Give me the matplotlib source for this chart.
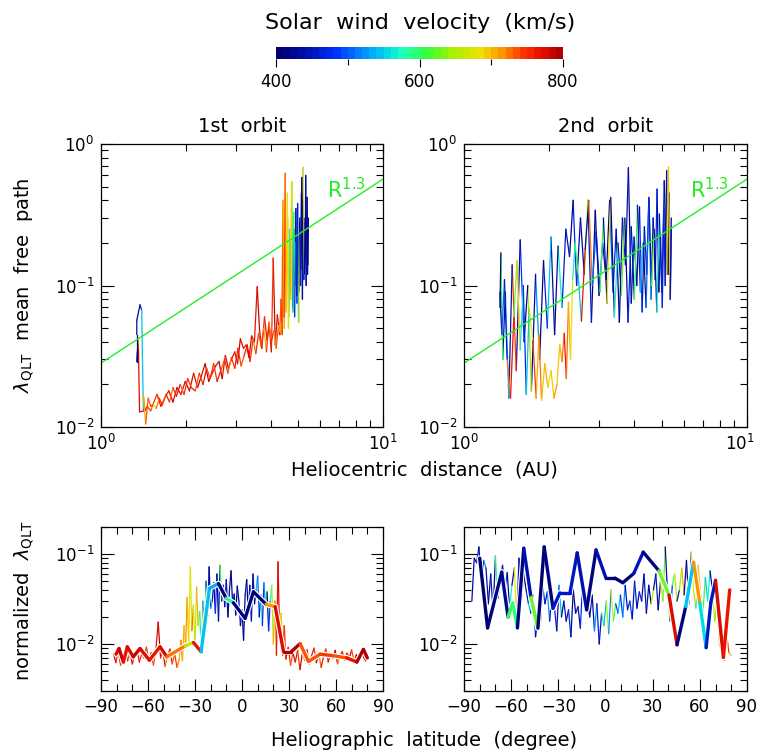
import numpy as np
import matplotlib.pyplot as plt
from matplotlib.collections import LineCollection
from matplotlib.colors import LinearSegmentedColormap, ListedColormap, Normalize
from matplotlib.cm import ScalarMappable
from matplotlib.ticker import LogLocator, MultipleLocator, FixedLocator, NullFormatter
from matplotlib.transforms import ScaledTranslation
import matplotlib.patheffects as pe

plt.rcParams['font.family'] = ['DejaVu Sans']
plt.rcParams['mathtext.fontset'] = 'dejavusans'

# --- 1st orbit: distance (AU), mean free path, wind speed (km/s)
r1 = [5.42, 5.40, 5.37, 5.35, 5.32, 5.30, 5.27, 5.24, 5.21, 5.18, 5.15, 5.11, 5.07, 5.03, 4.99, 4.95,
      4.91, 4.87, 4.83, 4.79, 4.75, 4.71, 4.67, 4.63, 4.59, 4.55, 4.51, 4.47, 4.43, 4.39, 4.35,
      4.30, 4.22, 4.15, 4.08, 4.02, 3.95, 3.88, 3.80, 3.72, 3.65, 3.58, 3.50, 3.42, 3.35, 3.27, 3.20,
      3.12, 3.05, 2.98, 2.90, 2.83, 2.76, 2.69, 2.62, 2.55, 2.48, 2.41, 2.34, 2.27, 2.20, 2.13, 2.06,
      1.99, 1.92, 1.86, 1.80, 1.74, 1.68, 1.63, 1.58, 1.54, 1.50, 1.46, 1.43,
      1.37, 1.356, 1.345, 1.339, 1.339, 1.34, 1.375, 1.394, 1.413, 1.43, 1.413, 1.44,
      1.47, 1.50, 1.53, 1.57, 1.61, 1.65, 1.70, 1.75, 1.80, 1.85, 1.91, 1.97, 2.03, 2.09, 2.16, 2.23,
      2.30, 2.37, 2.44, 2.51, 2.58, 2.66, 2.74, 2.82, 2.90, 2.98, 3.06, 3.14, 3.22, 3.30, 3.38, 3.46,
      3.54, 3.62, 3.70, 3.78, 3.86, 3.94, 4.02, 4.10, 4.18, 4.26, 4.34,
      4.38, 4.42, 4.46, 4.50, 4.54, 4.58, 4.62, 4.66, 4.70, 4.74, 4.78, 4.82, 4.86, 4.90, 4.94, 4.98,
      5.02, 5.06, 5.10, 5.14, 5.18, 5.22, 5.26, 5.30, 5.34, 5.38, 5.41, 5.44]
lam1 = [0.25, 0.12, 0.32, 0.15, 0.60, 0.18, 0.28, 0.11, 0.40, 0.16, 0.58, 0.13, 0.30, 0.09, 0.22, 0.075,
        0.35, 0.10, 0.25, 0.065, 0.54, 0.08, 0.20, 0.06, 0.30, 0.07, 0.18, 0.05, 0.12, 0.045, 0.08,
        0.045, 0.062, 0.038, 0.156, 0.034, 0.052, 0.041, 0.060, 0.036, 0.048, 0.098, 0.040, 0.044, 0.031, 0.038, 0.036,
        0.042, 0.028, 0.034, 0.030, 0.026, 0.032, 0.022, 0.029, 0.027, 0.024, 0.021, 0.028, 0.023, 0.019, 0.024, 0.018,
        0.021, 0.017, 0.019, 0.015, 0.018, 0.016, 0.014, 0.017, 0.015, 0.013, 0.014, 0.013,
        0.0128, 0.041, 0.034, 0.029, 0.045, 0.057, 0.073, 0.067, 0.0132, 0.0136, 0.0168, 0.0105,
        0.016, 0.014, 0.0145, 0.0135, 0.016, 0.0142, 0.017, 0.015, 0.019, 0.0165, 0.020, 0.017, 0.022, 0.019, 0.018, 0.024,
        0.020, 0.026, 0.022, 0.028, 0.021, 0.025, 0.030, 0.024, 0.031, 0.026, 0.036, 0.027, 0.032, 0.038, 0.029, 0.042,
        0.033, 0.046, 0.037, 0.050, 0.034, 0.055, 0.040, 0.048, 0.036, 0.052, 0.045,
        0.055, 0.40, 0.06, 0.62, 0.065, 0.45, 0.05, 0.25, 0.09, 0.54, 0.07, 0.33, 0.06, 0.20, 0.085, 0.38,
        0.055, 0.28, 0.10, 0.45, 0.08, 0.68, 0.12, 0.30, 0.10, 0.42, 0.14, 0.30]
vel1 = [420, 430, 410, 440, 430, 420, 480, 450, 430, 410, 420, 500, 440, 460, 520, 480,
        430, 550, 470, 600, 680, 640, 520, 700, 690, 620, 710, 700, 720, 750, 730,
        770, 760, 780, 740, 770, 790, 765, 750, 770, 780, 760, 775, 770, 785, 765, 770,
        780, 760, 775, 770, 780, 765, 785, 770, 760, 775, 780, 770, 790, 765, 770, 780,
        775, 760, 770, 785, 760, 750, 765, 740, 730, 745, 760, 770,
        770, 700, 420, 410, 430, 420, 450, 540, 760, 720, 700, 730,
        730, 740, 690, 720, 750, 735, 760, 720, 740, 770, 730, 750, 740, 760, 735, 745,
        760, 730, 750, 740, 760, 735, 750, 720, 745, 760, 740, 730, 750, 760, 740, 720,
        750, 730, 745, 700, 740, 720, 750, 710, 730, 700, 720,
        730, 700, 740, 720, 690, 680, 660, 560, 700, 670, 520, 600, 470, 500, 430, 460,
        640, 420, 450, 410, 430, 680, 420, 400, 440, 420, 410, 430]

# --- 2nd orbit
r2 = [5.40, 5.36, 5.31, 5.26, 5.20, 5.14, 5.08, 5.02, 4.95, 4.88, 4.81, 4.74, 4.66, 4.58, 4.50, 4.42,
      4.34, 4.26, 4.17, 4.08, 3.99, 3.90, 3.81, 3.72, 3.63, 3.54, 3.45, 3.36, 3.27, 3.18, 3.09, 3.00,
      2.91, 2.82, 2.74, 2.66, 2.58, 2.50, 2.43, 2.36, 2.29, 2.22, 2.15, 2.09, 2.03, 1.97, 1.91, 1.85,
      1.79, 1.73, 1.68, 1.63, 1.58, 1.53, 1.48, 1.44, 1.40, 1.37, 1.35, 1.34,
      1.34, 1.36, 1.39, 1.42, 1.46, 1.50, 1.54, 1.58, 1.62, 1.66, 1.70, 1.75, 1.80, 1.84, 1.88, 1.93,
      1.98, 2.03, 2.08, 2.13, 2.18, 2.22, 2.26, 2.30, 2.34, 2.38, 2.42, 2.47, 2.53, 2.60, 2.68, 2.76,
      2.84, 2.93, 3.02, 3.11, 3.20, 3.30, 3.40, 3.50, 3.60, 3.70, 3.80, 3.90, 4.00, 4.10, 4.20, 4.30,
      4.40, 4.50, 4.60, 4.70, 4.80, 4.90, 5.00, 5.10, 5.20, 5.28, 5.35, 5.40]
lam2 = [0.30, 0.08, 0.45, 0.12, 0.65, 0.10, 0.35, 0.07, 0.22, 0.09, 0.48, 0.11, 0.30, 0.08, 0.42, 0.12,
        0.26, 0.065, 0.36, 0.10, 0.22, 0.075, 0.68, 0.14, 0.30, 0.055, 0.25, 0.09, 0.40, 0.11, 0.20, 0.085,
        0.34, 0.055, 0.40, 0.12, 0.30, 0.10, 0.40, 0.16, 0.25, 0.07, 0.19, 0.045, 0.22, 0.05, 0.15, 0.03,
        0.12, 0.018, 0.10, 0.04, 0.21, 0.025, 0.14, 0.016, 0.09, 0.03, 0.17, 0.07,
        0.09, 0.045, 0.11, 0.03, 0.016, 0.06, 0.15, 0.035, 0.10, 0.017, 0.07, 0.041, 0.016, 0.045, 0.0155, 0.028,
        0.019, 0.025, 0.016, 0.020, 0.038, 0.029, 0.046, 0.022, 0.076, 0.030, 0.11, 0.20, 0.12, 0.056, 0.18, 0.40,
        0.10, 0.24, 0.09, 0.30, 0.075, 0.42, 0.06, 0.20, 0.085, 0.30, 0.055, 0.26, 0.08, 0.37, 0.09, 0.20,
        0.07, 0.41, 0.10, 0.25, 0.065, 0.32, 0.09, 0.55, 0.12, 0.69, 0.08, 0.25]
vel2 = [420, 450, 410, 430, 440, 460, 420, 480, 430, 410, 470, 430, 450, 520, 420, 460,
        430, 480, 410, 440, 470, 420, 440, 450, 430, 410, 460, 500, 420, 440, 470, 430,
        410, 450, 640, 420, 430, 470, 410, 440, 450, 560, 420, 430, 540, 460, 410, 520,
        430, 640, 410, 480, 420, 740, 440, 530, 430, 600, 410, 420,
        430, 500, 450, 720, 760, 620, 690, 560, 470, 540, 680, 740, 700, 720, 690, 700,
        680, 690, 710, 690, 700, 720, 760, 720, 700, 680, 560, 600, 540, 760, 430, 720,
        500, 440, 600, 430, 680, 410, 560, 440, 620, 420, 470, 430, 600, 450, 540, 420,
        500, 440, 620, 420, 560, 440, 470, 430, 680, 690, 430, 480]

# --- 1st orbit vs heliographic latitude (normalized by R^1.3)
lat1 = [-82, -80.5, -79, -77.5, -76, -74.5, -73, -71.5, -70, -68.5, -67, -65.5, -64, -62.5, -61, -59.5,
        -58, -56.5, -55, -53.5, -52, -50.5, -49, -47.5, -46, -44.5, -43, -41.5, -40,
        -39, -38, -37, -36, -35, -34, -33, -32, -31, -30, -29, -28, -27, -26, -25, -24, -23, -22, -21, -20,
        -19, -18, -17, -16, -15, -14, -13, -12, -11, -10, -9, -8, -7, -6, -5, -4, -3, -2, -1, 0,
        1, 2, 3, 4, 5, 6, 7, 8, 9, 10, 11, 12, 13, 14, 15, 16, 17, 18, 19, 20,
        21, 22, 23, 24, 25, 26, 27, 28, 29.5, 31, 32.5, 34, 35.5, 37, 38.5, 40, 41.5, 43, 44.5, 46,
        47.5, 49, 50.5, 52, 53.5, 55, 56.5, 58, 59.5, 61, 62.5, 64, 65.5, 67, 68.5, 70, 71.5, 73, 74.5,
        76, 77.5, 79, 80]
nlam1 = [0.0078, 0.0062, 0.0085, 0.0058, 0.0072, 0.0090, 0.0065, 0.0080, 0.0060, 0.0075, 0.0088, 0.0063,
         0.0078, 0.0070, 0.0092, 0.0066, 0.0080, 0.0058, 0.0085, 0.0175, 0.0070, 0.0082, 0.0056, 0.0075,
         0.0088, 0.0060, 0.0078, 0.0055, 0.0068,
         0.0110, 0.0065, 0.0160, 0.0090, 0.0330, 0.0105, 0.0720, 0.0140, 0.0270, 0.0095, 0.0430, 0.0160,
         0.0230, 0.0085, 0.0300, 0.0120, 0.0500, 0.0200, 0.0720, 0.0250,
         0.030, 0.048, 0.022, 0.060, 0.018, 0.075, 0.030, 0.045, 0.026, 0.052, 0.020, 0.040, 0.065, 0.028,
         0.036, 0.021, 0.044, 0.030, 0.016, 0.024, 0.011, 0.035, 0.052, 0.022, 0.045, 0.018, 0.060, 0.028,
         0.040, 0.057, 0.020, 0.035, 0.016, 0.048, 0.026, 0.038, 0.014, 0.030, 0.045, 0.010,
         0.030, 0.0075, 0.082, 0.012, 0.022, 0.0075, 0.016, 0.0068, 0.0092, 0.0058, 0.0080, 0.0063, 0.0085,
         0.0052, 0.0078, 0.0066, 0.0086, 0.0060, 0.0075, 0.0090, 0.0062, 0.0080, 0.0055, 0.0072, 0.0088,
         0.0063, 0.0078, 0.0069, 0.0085, 0.0060, 0.0074, 0.0082, 0.0066, 0.0079, 0.0070, 0.0086, 0.0064,
         0.0076, 0.0068, 0.0082, 0.0072, 0.0065, 0.0078]
nvel1 = [780, 750, 770, 730, 760, 780, 740, 770, 760, 730, 770, 750, 780, 760, 740, 770, 750, 730, 760,
         780, 740, 770, 720, 750, 760, 730, 740, 720, 700,
         720, 700, 690, 710, 700, 680, 670, 720, 660, 650, 700, 640, 560, 690, 520, 600, 470, 450, 420, 540,
         450, 420, 480, 410, 440, 600, 430, 470, 420, 450, 410, 430, 420, 480, 440, 410, 420, 460, 430, 410,
         420, 440, 410, 470, 430, 450, 420, 410, 540, 500, 440, 560, 470, 520, 620, 430, 480, 560, 640, 700,
         720, 760, 770, 700, 690, 760, 740, 770, 750, 730, 770, 760, 740, 780, 720, 750, 770, 730, 760, 740,
         780, 720, 760, 750, 740, 770, 730, 760, 780, 720, 750, 770, 740, 760, 780, 730, 770, 790, 760,
         780, 790, 770, 780]

# binned averages, 1st orbit
blat1 = [-80.4, -78.5, -75.7, -73.2, -69.4, -65.1, -59.1, -52.3, -48.0, -36.3, -31.0, -26.1, -20.8, -15.0,
         -10.1, -5.5, 2.0, 7.3, 15.4, 21.2, 26.5, 31.4, 37.1, 42.4, 49.9, 58.4, 66.9, 73.3, 77.5, 80.0]
blam1 = [0.0077, 0.0089, 0.0063, 0.0093, 0.0072, 0.0089, 0.0066, 0.0093, 0.0072, 0.0095, 0.0104, 0.0082,
         0.0415, 0.047, 0.0322, 0.0287, 0.0193, 0.038, 0.0276, 0.026, 0.0082, 0.0082, 0.0101, 0.0064,
         0.0077, 0.0074, 0.0070, 0.0063, 0.0087, 0.0070]
bvel1 = [770, 780, 760, 770, 780, 770, 760, 770, 720, 650, 760, 540, 530, 410, 580, 410, 410, 405, 710,
         770, 790, 790, 730, 730, 740, 730, 760, 790, 790, 780]

# --- 2nd orbit vs heliographic latitude
lat2 = [-85, -83.5, -82, -80.5, -79, -77.5, -76, -74.5, -73, -71.5,
        -70, -68.5, -67, -65.5, -64, -62.5, -61, -59.5, -58, -56.5,
        -55, -53.5, -52, -50.5, -49, -47.5, -46, -44.5, -43, -41.5,
        -40, -38.5, -37, -35.5, -34, -32.5, -31, -29.5, -28, -26.5,
        -25, -23.5, -22, -20.5, -19, -17.5, -16, -14.5, -13, -11.5,
        -10, -8.5, -7, -5.5, -4, -2.5, -1, 0.5, 2, 3.5,
        5, 6.5, 8, 9.5, 11, 12.5, 14, 15.5, 17, 18.5,
        20, 21.5, 23, 24.5, 26, 27.5, 29, 30.5, 32, 33.5,
        35, 36.5, 38, 39.5, 41, 42.5, 44, 45.5, 47, 48.5,
        50, 51.5, 53, 54.5, 56, 57.5, 59, 60.5, 62, 63.5,
        65, 66.5, 68, 69.5, 71, 72.5, 74, 75.5, 77, 78.5, 80]
nlam2 = [0.030, 0.090, 0.080, 0.120, 0.045, 0.085, 0.070, 0.028, 0.060, 0.022,
         0.095, 0.032, 0.050, 0.075, 0.040, 0.062, 0.025, 0.045, 0.070, 0.018,
         0.090, 0.030, 0.060, 0.040, 0.028, 0.022, 0.035, 0.012, 0.020, 0.016,
         0.045, 0.028, 0.038, 0.018, 0.040, 0.026, 0.014, 0.045, 0.020, 0.030,
         0.018, 0.024, 0.012, 0.040, 0.022, 0.026, 0.015, 0.050, 0.024, 0.032,
         0.020, 0.035, 0.014, 0.028, 0.010, 0.022, 0.016, 0.030, 0.013, 0.040,
         0.018, 0.028, 0.022, 0.035, 0.020, 0.045, 0.024, 0.030, 0.019, 0.050,
         0.025, 0.038, 0.030, 0.060, 0.022, 0.045, 0.028, 0.040, 0.060, 0.024,
         0.050, 0.030, 0.120, 0.035, 0.018, 0.045, 0.060, 0.030, 0.040, 0.070,
         0.035, 0.085, 0.028, 0.105, 0.040, 0.025, 0.075, 0.035, 0.022, 0.055,
         0.030, 0.065, 0.040, 0.018, 0.030, 0.0095, 0.016, 0.0065, 0.013, 0.0080, 0.0075]
nvel2 = [430, 410, 460, 420, 430, 520, 440, 410, 450, 420,
         580, 440, 460, 430, 470, 420, 560, 430, 680, 450,
         420, 440, 410, 450, 540, 430, 480, 420, 560, 430,
         470, 430, 520, 440, 410, 460, 430, 540, 410, 450,
         420, 470, 430, 410, 450, 430, 470, 420, 440, 410,
         440, 420, 520, 460, 440, 580, 540, 640, 520, 680,
         590, 480, 540, 470, 520, 430, 450, 480, 440, 460,
         430, 470, 420, 450, 430, 410, 640, 430, 450, 420,
         670, 620, 430, 690, 480, 600, 650, 450, 640, 700,
         430, 420, 500, 680, 660, 560, 690, 460, 600, 540,
         560, 430, 670, 620, 700, 700, 720, 680, 740, 700, 720]

# binned averages, 2nd orbit
blat2 = [-80, -75, -66, -62, -59, -56, -52, -47.4, -43, -39, -33.4, -29, -22.6, -18, -12, -6, 0.3, 6,
         11, 18, 24, 34, 40.4, 45.5, 51, 56, 60, 64, 67, 70, 75, 79]
blam2 = [0.090, 0.0151, 0.063, 0.020, 0.0285, 0.0151, 0.116, 0.033, 0.015, 0.12, 0.025, 0.037, 0.037,
         0.103, 0.024, 0.111, 0.054, 0.054, 0.048, 0.061, 0.105, 0.065, 0.035, 0.0098, 0.026, 0.081,
         0.0285, 0.0091, 0.029, 0.051, 0.0071, 0.040]
bvel2 = [405, 410, 420, 600, 590, 410, 440, 620, 400, 410, 450, 450, 450, 440, 410, 440, 410, 400, 410,
         450, 410, 620, 770, 410, 540, 710, 550, 450, 450, 770, 760, 760]

# R^1.3 reference line
r_fit = np.array([1.0, 10.0])
lam_fit = 0.0283 * r_fit ** 1.3

# colour table for wind speed
cpts = [(0.00, '#000070'), (0.10, '#0010b0'), (0.20, '#0030ff'), (0.30, '#0090ff'),
        (0.38, '#00d8e8'), (0.44, '#20ffc0'), (0.52, '#30ff40'), (0.62, '#a8f000'),
        (0.72, '#f0e000'), (0.80, '#ff9000'), (0.86, '#ff4000'), (0.93, '#e81000'), (1.00, '#b00000')]
cmap = ListedColormap(LinearSegmentedColormap.from_list('vel', cpts)(np.linspace(0, 1, 40)))
norm = Normalize(400, 800)


def colored_line(ax, x, y, v, lw, halo=False):
    pts = np.column_stack([x, y])
    segs = np.stack([pts[:-1], pts[1:]], axis=1)
    lc = LineCollection(segs, cmap=cmap, norm=norm, linewidths=lw,
                        capstyle='round', joinstyle='round')
    lc.set_array(np.asarray(v[:-1], dtype=float))
    if halo:
        lc.set_path_effects([pe.Stroke(linewidth=lw + 1.6, foreground='white'), pe.Normal()])
    ax.add_collection(lc)


def style_axes(ax):
    ax.tick_params(which='both', direction='in', top=True, right=True, labelsize=12, width=0.8)
    ax.tick_params(which='major', length=9, pad=5)
    ax.tick_params(which='minor', length=5)
    for s in ax.spines.values():
        s.set_linewidth(0.9)


fig = plt.figure(figsize=(7.59, 7.55), dpi=100)
W, H = 759.0, 755.0


def box(x0, y0, x1, y1):
    return [x0 / W, 1 - y1 / H, (x1 - x0) / W, (y1 - y0) / H]


ax_r1 = fig.add_axes(box(101, 144, 383, 427))
ax_r2 = fig.add_axes(box(464, 144, 747, 427))
ax_l1 = fig.add_axes(box(101, 527, 383, 691))
ax_l2 = fig.add_axes(box(464, 527, 747, 691))

# distance panels
for ax, r, lam, vel, title in [(ax_r1, r1, lam1, vel1, '1st  orbit'),
                               (ax_r2, r2, lam2, vel2, '2nd  orbit')]:
    ax.set_xscale('log')
    ax.set_yscale('log')
    ax.set_xlim(1, 10)
    ax.set_ylim(0.01, 1)
    colored_line(ax, r, lam, vel, 0.9)
    ax.plot(r_fit, lam_fit, color='#22ee22', lw=1.0)
    ax.text(0.80, 0.81, r'R$^{1.3}$', color='#22ee22', fontsize=15, transform=ax.transAxes)
    ax.set_title(title, fontsize=14, pad=9)
    ax.set_xticks([1, 10])
    ax.xaxis.set_minor_locator(LogLocator(base=10, subs=np.arange(2, 10)))
    ax.yaxis.set_minor_locator(LogLocator(base=10, subs=np.arange(2, 10)))
    ax.xaxis.set_minor_formatter(NullFormatter())
    style_axes(ax)

# keep the right-hand 10^1 label inside the figure
tick10 = ax_r2.xaxis.get_major_ticks()[-1]
tick10.label1.set_transform(tick10.label1.get_transform()
                            + ScaledTranslation(-5 / 72, 0, fig.dpi_scale_trans))

# latitude panels
for ax, lat, nl, nv, bl, bn, bv in [(ax_l1, lat1, nlam1, nvel1, blat1, blam1, bvel1),
                                    (ax_l2, lat2, nlam2, nvel2, blat2, blam2, bvel2)]:
    ax.set_yscale('log')
    ax.set_xlim(-90, 90)
    ax.set_ylim(0.003, 0.2)
    colored_line(ax, lat, nl, nv, 0.9)
    colored_line(ax, bl, bn, bv, 2.4, halo=True)
    ax.xaxis.set_major_locator(MultipleLocator(30))
    ax.xaxis.set_minor_locator(MultipleLocator(10))
    ax.yaxis.set_minor_locator(LogLocator(base=10, subs=np.arange(2, 10)))
    ax.yaxis.set_minor_formatter(NullFormatter())
    style_axes(ax)

fig.text(424 / W, 1 - 470 / H, 'Heliocentric  distance  (AU)', fontsize=14, ha='center', va='center')
fig.text(424 / W, 1 - 740 / H, 'Heliographic  latitude  (degree)', fontsize=14, ha='center', va='center')
fig.text(24 / W, 1 - 285 / H, r'$\lambda_{\rm QLT}$  mean  free  path', fontsize=14,
         rotation=90, ha='center', va='center')
fig.text(24 / W, 1 - 600 / H, r'normalized  $\lambda_{\rm QLT}$', fontsize=14,
         rotation=90, ha='center', va='center')

# colour bar
cax = fig.add_axes(box(276, 47, 563, 59))
cb = fig.colorbar(ScalarMappable(norm=norm, cmap=cmap), cax=cax, orientation='horizontal')
cb.outline.set_visible(False)
cb.set_ticks([400, 600, 800])
cax.xaxis.set_minor_locator(FixedLocator([500, 700]))
cax.tick_params(which='major', direction='out', length=6, width=0.8, labelsize=12, pad=4)
cax.tick_params(which='minor', direction='out', length=4, width=0.8)
fig.text(420 / W, 1 - 23 / H, 'Solar  wind  velocity  (km/s)', fontsize=16, ha='center', va='center')

fig.savefig('out.png', dpi=100)
